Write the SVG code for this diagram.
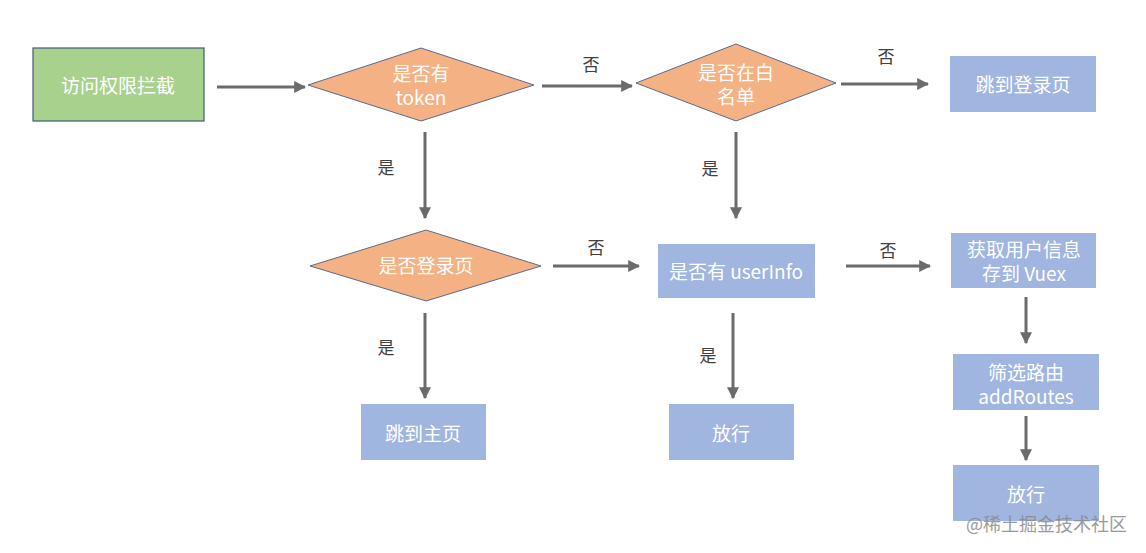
<svg xmlns="http://www.w3.org/2000/svg" width="1146" height="553" viewBox="0 0 1146 553">
<style>
.t{font-family:"Noto Sans CJK SC","Noto Sans",sans-serif;font-size:19px;fill:#ffffff;text-anchor:middle;dominant-baseline:central}
.lb{font-family:"Noto Sans CJK SC",sans-serif;font-size:17px;fill:#404040;text-anchor:middle;dominant-baseline:central}
.box{fill:#a0b5df}
.dia{fill:#f4b183;stroke:#5a6a8c;stroke-width:1}
.c{stroke:#6b6b6b;stroke-width:3;fill:none;marker-end:url(#ah)}
.wm{font-family:"Noto Sans CJK SC",sans-serif;font-size:18px;fill:#8a8a8a;opacity:0.85}
</style>
<defs>
<marker id="ah" viewBox="0 0 10 10" refX="9" refY="5" markerWidth="4" markerHeight="4" orient="auto" markerUnits="strokeWidth">
<path d="M0,0 L10,5 L0,10 z" fill="#6b6b6b"/>
</marker>
</defs>
<rect width="1146" height="553" fill="#ffffff"/>
<g id="connectors">
<line class="c" x1="217" y1="87" x2="305" y2="87"/>
<line class="c" x1="542" y1="86" x2="632" y2="86"/>
<line class="c" x1="841" y1="84" x2="928" y2="84"/>
<line class="c" x1="425" y1="132" x2="425" y2="218"/>
<line class="c" x1="736" y1="132" x2="736" y2="218"/>
<line class="c" x1="553" y1="266" x2="639" y2="266"/>
<line class="c" x1="846" y1="266" x2="930" y2="266"/>
<line class="c" x1="1026" y1="297" x2="1026" y2="343"/>
<line class="c" x1="1026" y1="416" x2="1026" y2="460"/>
<line class="c" x1="425" y1="313" x2="425" y2="398"/>
<line class="c" x1="733" y1="313" x2="733" y2="398"/>
<text class="lb" x="591" y="63">否</text>
<text class="lb" x="886" y="55">否</text>
<text class="lb" x="386" y="166">是</text>
<text class="lb" x="710" y="167">是</text>
<text class="lb" x="596" y="246">否</text>
<text class="lb" x="888" y="249">否</text>
<text class="lb" x="386" y="346">是</text>
<text class="lb" x="708" y="354">是</text>
</g>
<g id="n-start">
<rect x="33" y="48" width="171" height="73" fill="#a9d18e" stroke="#3f5b78" stroke-width="1.2"/>
<text class="t" x="118" y="84">访问权限拦截</text>
</g>
<g id="n-token">
<polygon class="dia" points="308,85 421,48 534,85 421,121"/>
<text class="t" x="421" y="72"><tspan x="421" y="72">是否有</tspan><tspan x="421" y="96">token</tspan></text>
</g>
<g id="n-white">
<polygon class="dia" points="636,83 736,44 836,83 736,121"/>
<text class="t" x="736" y="71"><tspan x="736" y="71">是否在白</tspan><tspan x="736" y="95">名单</tspan></text>
</g>
<g id="n-login">
<rect class="box" x="950" y="56" width="146" height="56"/>
<text class="t" x="1023" y="83">跳到登录页</text>
</g>
<g id="n-islogin">
<polygon class="dia" points="310,266 426,230 541,266 426,301"/>
<text class="t" x="426" y="264">是否登录页</text>
</g>
<g id="n-userinfo">
<rect class="box" x="658" y="244" width="157" height="54"/>
<text class="t" x="736" y="270">是否有 userInfo</text>
</g>
<g id="n-fetch">
<rect class="box" x="951" y="233" width="145" height="55"/>
<text class="t" x="1024" y="248"><tspan x="1024" y="248">获取用户信息</tspan><tspan x="1024" y="272">存到 Vuex</tspan></text>
</g>
<g id="n-filter">
<rect class="box" x="953" y="354" width="146" height="56"/>
<text class="t" x="1026" y="371"><tspan x="1026" y="371">筛选路由</tspan><tspan x="1026" y="395">addRoutes</tspan></text>
</g>
<g id="n-pass2">
<rect class="box" x="953" y="465" width="146" height="56"/>
<text class="t" x="1026" y="493">放行</text>
</g>
<g id="n-home">
<rect class="box" x="361" y="404" width="125" height="56"/>
<text class="t" x="423" y="432">跳到主页</text>
</g>
<g id="n-pass1">
<rect class="box" x="669" y="404" width="125" height="56"/>
<text class="t" x="731" y="432">放行</text>
</g>
<text class="wm" x="966" y="531">@稀土掘金技术社区</text>
</svg>
